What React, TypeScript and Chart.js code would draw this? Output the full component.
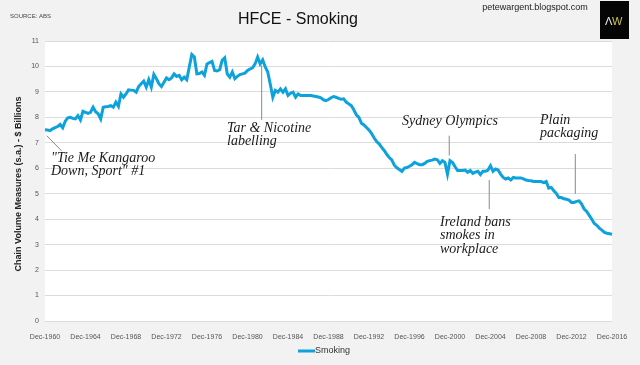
import React, { useEffect, useRef } from 'react';
import { Chart, registerables } from 'chart.js';

Chart.register(...registerables);

// Quarterly HFCE on smoking, chain volume measures (s.a.), $ billions, Dec-1960 .. Dec-2016
const smoking: number[] = [
  7.51, 7.50, 7.48, 7.55, 7.60, 7.64, 7.72, 7.59,
  7.85, 7.98, 8.00, 7.96, 7.94, 8.07, 7.90, 8.24,
  8.20, 8.16, 8.20, 8.40, 8.22, 8.14, 7.94, 8.40,
  8.42, 8.43, 8.46, 8.40, 8.60, 8.43, 8.92, 8.79,
  8.92, 9.08, 9.07, 9.06, 8.99, 9.21, 9.32, 9.42,
  9.19, 9.48, 9.19, 9.69, 9.52, 9.32, 9.21, 9.38,
  9.55, 9.48, 9.55, 9.71, 9.61, 9.65, 9.48, 9.58,
  9.48, 9.98, 10.47, 10.37, 9.71, 9.72, 9.78, 9.65,
  10.10, 10.15, 10.20, 9.84, 9.82, 9.87, 10.24, 10.34,
  9.71, 9.58, 9.78, 9.52, 9.61, 9.68, 9.71, 9.74,
  9.84, 9.90, 9.95, 10.10, 10.37, 10.10, 10.26, 9.98,
  9.78, 9.30, 8.79, 9.06, 8.99, 9.12, 8.99, 9.12,
  8.86, 8.95, 8.99, 8.79, 8.92, 8.86, 8.86, 8.86,
  8.86, 8.86, 8.84, 8.82, 8.80, 8.77, 8.69, 8.66,
  8.70, 8.77, 8.82, 8.79, 8.75, 8.71, 8.73, 8.60,
  8.53, 8.46, 8.30, 8.10, 8.00, 7.77, 7.70, 7.60,
  7.50, 7.37, 7.20, 7.05, 6.96, 6.82, 6.70, 6.55,
  6.42, 6.33, 6.12, 6.02, 5.95, 5.88, 6.01, 6.03,
  6.08, 6.14, 6.23, 6.18, 6.14, 6.14, 6.19, 6.27,
  6.30, 6.32, 6.36, 6.33, 6.19, 6.30, 6.23, 5.77,
  6.30, 6.23, 6.06, 5.91, 5.91, 5.91, 5.93, 5.84,
  5.91, 5.80, 5.85, 5.88, 5.75, 5.88, 5.88, 5.93,
  6.10, 5.88, 5.97, 5.93, 5.77, 5.64, 5.58, 5.62,
  5.54, 5.64, 5.62, 5.62, 5.62, 5.58, 5.54, 5.52,
  5.51, 5.48, 5.48, 5.48, 5.48, 5.44, 5.48, 5.22,
  5.25, 5.12, 5.01, 4.85, 4.85, 4.80, 4.78, 4.75,
  4.66, 4.66, 4.70, 4.72, 4.59, 4.40, 4.30, 4.15,
  4.00, 3.83, 3.76, 3.65, 3.57, 3.48, 3.45, 3.43,
  3.41,
];

const START_YEAR = 1960;
const QUARTER_MONTHS = ['Mar', 'Jun', 'Sep', 'Dec'];
const categories: string[] = smoking.map((_, i) => {
  const k = 3 + i;
  return `${QUARTER_MONTHS[k % 4]}-${START_YEAR + Math.floor(k / 4)}`;
});

const xTickLabels = [
  'Dec-1960', 'Dec-1964', 'Dec-1968', 'Dec-1972', 'Dec-1976', 'Dec-1980', 'Dec-1984', 'Dec-1988',
  'Dec-1992', 'Dec-1996', 'Dec-2000', 'Dec-2004', 'Dec-2008', 'Dec-2012', 'Dec-2016',
];
const Y_MIN = 0;
const Y_MAX = 11;
const Y_STEP = 1;

const SERIES_NAME = 'Smoking';
const TITLE = 'HFCE - Smoking';
const SOURCE = 'SOURCE: ABS';
const SITE = 'petewargent.blogspot.com';
const Y_TITLE = 'Chain Volume Measures (s.a.) - $ Billions';

// annotation: text lines + leader line anchored on (category index, value)
const annotations = [
  { lines: ['"Tie Me Kangaroo', 'Down, Sport" #1'], tx: 51, ty: 162, from: [0.7, 7.28], to: [6.5, 6.69] },
  { lines: ['Tar & Nicotine', 'labelling'], tx: 227, ty: 132, from: [85.6, 10.04], to: [85.6, 7.9] },
  { lines: ['Sydney Olympics'], tx: 402, ty: 125, from: [159.7, 7.28], to: [159.7, 6.5] },
  { lines: ['Plain', 'packaging'], tx: 540, ty: 124, from: [209.5, 6.56], to: [209.5, 4.99] },
  { lines: ['Ireland bans', 'smokes in', 'workplace'], tx: 440, ty: 226, from: [175.5, 5.54], to: [175.5, 4.4] },
];

const LINE_COLOR = '#0ea2dd';
const NARROW = '"Liberation Sans Narrow", "Liberation Sans", Arial, sans-serif';
const SANS = '"Liberation Sans", Arial, sans-serif';
const SCRIPT = '"Liberation Serif", "DejaVu Serif", serif';

const decorPlugin = {
  id: 'decor',
  beforeDraw(chart: any) {
    const { ctx, chartArea: a, width, height } = chart;
    ctx.save();
    ctx.fillStyle = '#f2f2f2';
    ctx.fillRect(0, 0, width, height);
    ctx.fillStyle = '#ffffff';
    ctx.fillRect(a.left, a.top, a.right - a.left, a.bottom - a.top);
    ctx.restore();
  },
  afterDraw(chart: any) {
    const { ctx } = chart;
    const xs = chart.scales.x;
    const ys = chart.scales.y;
    ctx.save();

    // title
    ctx.fillStyle = '#111';
    ctx.font = `16px ${SANS}`;
    ctx.textAlign = 'center';
    ctx.textBaseline = 'alphabetic';
    ctx.fillText(TITLE, 298, 24);

    // source
    ctx.fillStyle = '#444';
    ctx.font = `6px ${NARROW}`;
    ctx.textAlign = 'left';
    ctx.fillText(SOURCE, 10, 18);

    // site
    ctx.fillStyle = '#222';
    ctx.font = `9px ${SANS}`;
    ctx.textAlign = 'center';
    ctx.fillText(SITE, 535, 10);

    // logo
    ctx.fillStyle = '#050505';
    ctx.fillRect(600, 1, 29, 38);
    ctx.font = `11px ${SANS}`;
    ctx.textAlign = 'left';
    ctx.fillStyle = '#e8e8e8';
    ctx.fillText('\u039B', 605, 25);
    ctx.fillStyle = '#cfc24a';
    ctx.fillText('W', 612, 25);

    // y title
    ctx.save();
    ctx.translate(19, 184);
    ctx.rotate(-Math.PI / 2);
    ctx.fillStyle = '#222';
    ctx.font = `bold 9px ${NARROW}`;
    ctx.textAlign = 'center';
    ctx.textBaseline = 'middle';
    ctx.fillText(Y_TITLE, 0, 0);
    ctx.restore();

    // legend
    ctx.strokeStyle = LINE_COLOR;
    ctx.lineWidth = 3;
    ctx.beginPath();
    ctx.moveTo(298, 351);
    ctx.lineTo(315, 351);
    ctx.stroke();
    ctx.fillStyle = '#333';
    ctx.font = `9px ${NARROW}`;
    ctx.textAlign = 'left';
    ctx.textBaseline = 'middle';
    ctx.fillText(SERIES_NAME, 315, 351);

    // annotations
    ctx.strokeStyle = '#8a8a8a';
    ctx.lineWidth = 1;
    annotations.forEach((an) => {
      ctx.beginPath();
      ctx.moveTo(xs.getPixelForValue(an.from[0]), ys.getPixelForValue(an.from[1]));
      ctx.lineTo(xs.getPixelForValue(an.to[0]), ys.getPixelForValue(an.to[1]));
      ctx.stroke();
      ctx.fillStyle = '#1a1a1a';
      ctx.font = `italic 14px ${SCRIPT}`;
      ctx.textAlign = 'left';
      ctx.textBaseline = 'alphabetic';
      an.lines.forEach((ln, k) => ctx.fillText(ln, an.tx, an.ty + k * 13.3));
    });

    ctx.restore();
  },
};

export default function App() {
  const ref = useRef<HTMLCanvasElement | null>(null);

  useEffect(() => {
    document.body.style.margin = '0';
    if (!ref.current) return;
    const chart = new Chart(ref.current, {
      type: 'line',
      data: {
        labels: categories,
        datasets: [
          {
            label: SERIES_NAME,
            data: smoking,
            borderColor: LINE_COLOR,
            backgroundColor: LINE_COLOR,
            borderWidth: 3,
            pointRadius: 0,
            tension: 0,
            fill: false,
          },
        ],
      },
      options: {
        animation: false,
        responsive: false,
        devicePixelRatio: 1,
        layout: { padding: { top: 41, right: 28, bottom: 0, left: 0 } },
        plugins: {
          legend: { display: false },
          title: { display: false },
          tooltip: { enabled: false },
        },
        scales: {
          x: {
            type: 'category',
            offset: false,
            grid: { display: false },
            border: { display: false },
            afterFit: (s: any) => {
              s.height = 44;
            },
            ticks: {
              autoSkip: false,
              maxRotation: 0,
              minRotation: 0,
              padding: 4,
              color: '#555',
              font: { size: 7, family: NARROW },
              callback: (_v: any, idx: number) => {
                const lab = categories[idx];
                return xTickLabels.includes(lab) ? lab : null;
              },
            },
          },
          y: {
            min: Y_MIN,
            max: Y_MAX,
            grid: { color: '#dcdcdc', lineWidth: 1, drawTicks: false },
            border: { display: false },
            afterFit: (s: any) => {
              s.width = 45;
            },
            ticks: {
              stepSize: Y_STEP,
              padding: 6,
              color: '#555',
              font: { size: 7, family: NARROW },
            },
          },
        },
      },
      plugins: [decorPlugin],
    });
    return () => chart.destroy();
  }, []);

  return (
    <div style={{ width: 640, height: 365 }}>
      <canvas ref={ref} width={640} height={365} style={{ display: 'block' }} />
    </div>
  );
}
